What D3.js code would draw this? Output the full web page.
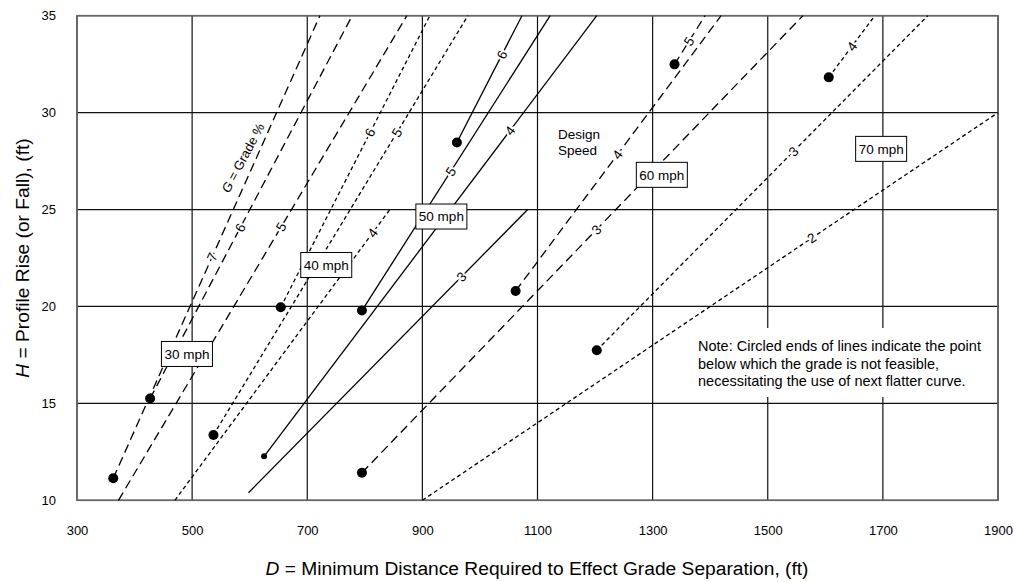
<!DOCTYPE html>
<html>
<head>
<meta charset="utf-8">
<script src="https://cdn.jsdelivr.net/npm/d3@7"></script>
<style>
  body { margin: 0; background: #fff; }
  svg { font-family: "Liberation Sans", Arial, sans-serif; }
</style>
</head>
<body>
<div id="chart"></div>
<script>
// tick values
const xTicks = [300, 500, 700, 900, 1100, 1300, 1500, 1700, 1900];
const yTicks = [10, 15, 20, 25, 30, 35];

// one entry per grade line
const lineSpeed = [30, 30, 30, 40, 40, 40, 50, 50, 50, 50, 60, 60, 60, 70, 70, 70];
const lineGrade = [7, 6, 5, 6, 5, 4, 6, 5, 4, 3, 5, 4, 3, 4, 3, 2];
const startD = [363, 427, 372, 654, 537, 470, 960, 795, 625, 598, 1338, 1062, 795, 1606, 1203, 900];
const startH = [11.14, 15.25, 10, 19.96, 13.37, 10, 28.46, 19.79, 12.27, 10.39, 32.49, 20.8, 11.42, 31.82, 17.74, 10];
const endD = [722, 778, 873, 913, 979, 846, 1073, 1122, 1203, 1083, 1391, 1419, 1561, 1686, 1778, 1900];
const endH = [35, 35, 35, 35, 35, 25.1, 35, 35, 35, 25, 35, 35, 35, 35, 35, 30];
// 2 = big circle, 1 = small circle, 0 = none
const startDot = [2, 2, 0, 2, 2, 0, 2, 2, 1, 0, 2, 2, 2, 2, 2, 0];
// H at which the grade number sits on its line
const labelH = [22.56, 24.06, 24.11, 28.97, 28.97, 23.8, 32.99, 26.96, 29.07, 21.53, 33.68, 27.83, 23.96, 33.42, 28.0, 23.53];

// design speed boxes
const speedNames = ["30 mph", "40 mph", "50 mph", "60 mph", "70 mph"];
const speedBoxD = [491, 733, 933, 1316, 1697];
const speedBoxH = [17.55, 22.14, 24.64, 26.79, 28.13];

const noteLines = [
  "Note: Circled ends of lines indicate the point",
  "below which the grade is not feasible,",
  "necessitating the use of next flatter curve."
];

const width = 1014, height = 582;
const svg = d3.select("#chart").append("svg")
    .attr("width", width)
    .attr("height", height);

const x = d3.scaleLinear().domain([300, 1900]).range([77, 998]);
const y = d3.scaleLinear().domain([10, 35]).range([500.3, 15.7]);

// dash style per speed
const dashFor = function(s) {
  if (s === 50) return null;
  if (s === 40 || s === 70) return "4,3";
  return "9,5";
};

// grid
svg.append("g").selectAll("line.v")
  .data(xTicks).enter().append("line")
    .attr("x1", d => x(d)).attr("x2", d => x(d))
    .attr("y1", y(10)).attr("y2", y(35))
    .attr("stroke", "#111").attr("stroke-width", 1.2);
svg.append("g").selectAll("line.h")
  .data(yTicks).enter().append("line")
    .attr("x1", x(300)).attr("x2", x(1900))
    .attr("y1", d => y(d)).attr("y2", d => y(d))
    .attr("stroke", "#111").attr("stroke-width", 1.2);
svg.append("rect")
    .attr("x", x(300)).attr("y", y(35))
    .attr("width", x(1900) - x(300)).attr("height", y(10) - y(35))
    .attr("fill", "none").attr("stroke", "#666").attr("stroke-width", 1.6);

// axes (labels only)
const xAxis = svg.append("g")
    .attr("transform", "translate(0," + y(10) + ")")
    .call(d3.axisBottom(x).tickValues(xTicks).tickSize(0).tickPadding(25).tickFormat(d3.format("d")));
const yAxis = svg.append("g")
    .attr("transform", "translate(" + x(300) + ",0)")
    .call(d3.axisLeft(y).tickValues(yTicks).tickSize(0).tickPadding(21));
[xAxis, yAxis].forEach(function(a) {
  a.select(".domain").remove();
  a.selectAll("text").attr("font-size", 13).attr("fill", "#000")
    .attr("font-family", "Liberation Sans, Arial, sans-serif");
});

// note with white background
svg.append("rect")
    .attr("x", 690).attr("y", 328).attr("width", 302).attr("height", 69)
    .attr("fill", "#fff");
svg.append("text")
    .attr("font-size", 14.5)
    .selectAll("tspan").data(noteLines).enter().append("tspan")
    .attr("x", 698)
    .attr("y", (d, i) => 351 + i * 17.6)
    .text(d => d);

// grade lines
const idx = d3.range(lineGrade.length);
svg.append("g").selectAll("line.g")
  .data(idx).enter().append("line")
    .attr("x1", i => x(startD[i])).attr("y1", i => y(startH[i]))
    .attr("x2", i => x(endD[i])).attr("y2", i => y(endH[i]))
    .attr("stroke", "#000").attr("stroke-width", 1.3)
    .attr("stroke-dasharray", i => dashFor(lineSpeed[i]));

// grade numbers along lines
const posAt = function(i, h) {
  const t = (h - startH[i]) / (endH[i] - startH[i]);
  return [startD[i] + t * (endD[i] - startD[i]), h];
};
svg.append("g").selectAll("text")
  .data(idx).enter().append("text")
    .attr("transform", function(i) {
      const p = posAt(i, labelH[i]);
      const ang = Math.atan2(y(endH[i]) - y(startH[i]), x(endD[i]) - x(startD[i])) * 180 / Math.PI;
      return "translate(" + x(p[0]) + "," + y(p[1]) + ") rotate(" + ang + ")";
    })
    .attr("text-anchor", "middle")
    .attr("dy", "0.35em")
    .attr("font-size", 13.5)
    .attr("stroke", "#fff").attr("stroke-width", 4)
    .attr("paint-order", "stroke")
    .attr("fill", "#000")
    .text(i => lineGrade[i]);

// circled ends
svg.append("g").selectAll("circle")
  .data(idx.filter(i => startDot[i] > 0)).enter().append("circle")
    .attr("cx", i => x(startD[i])).attr("cy", i => y(startH[i]))
    .attr("r", i => startDot[i] === 2 ? 5 : 3)
    .attr("fill", "#000");

// G = Grade %
const gText = svg.append("text")
    .attr("transform", "translate(247,160) rotate(-62)")
    .attr("text-anchor", "middle")
    .attr("font-size", 13);
gText.append("tspan").attr("font-style", "italic").text("G");
gText.append("tspan").text(" = Grade %");

// Design Speed
svg.append("text").attr("font-size", 13.5)
  .selectAll("tspan").data(["Design", "Speed"]).enter().append("tspan")
    .attr("x", 558).attr("y", (d, i) => 139 + i * 15.5)
    .text(d => d);

// speed boxes
const boxes = svg.append("g").selectAll("g")
  .data(speedNames).enter().append("g")
    .attr("transform", (d, i) => "translate(" + x(speedBoxD[i]) + "," + y(speedBoxH[i]) + ")");
boxes.append("rect")
    .attr("x", -25.5).attr("y", -12.5).attr("width", 51).attr("height", 25)
    .attr("fill", "#fff").attr("stroke", "#000").attr("stroke-width", 1);
boxes.append("text")
    .attr("text-anchor", "middle").attr("dy", "0.36em")
    .attr("font-size", 13.5)
    .text(d => d);

// axis titles
const xt = svg.append("text")
    .attr("x", 537).attr("y", 575)
    .attr("text-anchor", "middle").attr("font-size", 19.2);
xt.append("tspan").attr("font-style", "italic").text("D");
xt.append("tspan").text(" = Minimum Distance Required to Effect Grade Separation, (ft)");

const yt = svg.append("text")
    .attr("transform", "translate(29,258) rotate(-90)")
    .attr("text-anchor", "middle").attr("font-size", 19.2);
yt.append("tspan").attr("font-style", "italic").text("H");
yt.append("tspan").text(" = Profile Rise (or Fall), (ft)");
</script>
</body>
</html>
